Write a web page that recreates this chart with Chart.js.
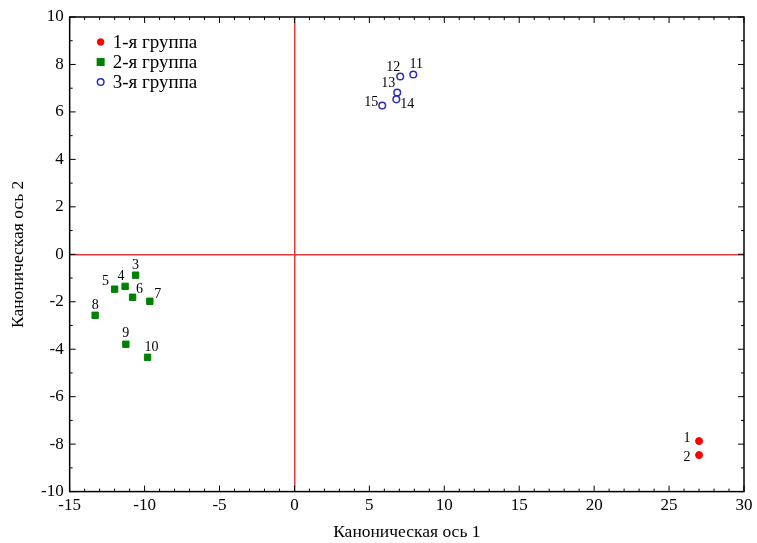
<!DOCTYPE html>
<html>
<head>
<meta charset="utf-8">
<script src="https://cdn.jsdelivr.net/npm/chart.js@4/dist/chart.umd.min.js"></script>
<style>
  body { margin: 0; background: #fff; }
  #wrap { width: 757px; height: 543px; }
</style>
</head>
<body>
<div id="wrap"><canvas id="chartCanon"></canvas></div>
<script>
// данные
const groupNames = ['1-я группа', '2-я группа', '3-я группа'];
const group1 = [
  { x: 27.0, y: -7.87, n: '1' },
  { x: 27.0, y: -8.46, n: '2' }
];
const group2 = [
  { x: -10.6, y: -0.88, n: '3' },
  { x: -11.3, y: -1.35, n: '4' },
  { x: -12.0, y: -1.47, n: '5' },
  { x: -10.8, y: -1.81, n: '6' },
  { x: -9.65, y: -1.98, n: '7' },
  { x: -13.3, y: -2.57, n: '8' },
  { x: -11.25, y: -3.79, n: '9' },
  { x: -9.8, y: -4.34, n: '10' }
];
const group3 = [
  { x: 7.93, y: 7.58, n: '11' },
  { x: 7.06, y: 7.49, n: '12' },
  { x: 6.86, y: 6.82, n: '13' },
  { x: 6.8, y: 6.53, n: '14' },
  { x: 5.86, y: 6.27, n: '15' }
];
const xTicks = [-15, -10, -5, 0, 5, 10, 15, 20, 25, 30];
const yTicks = [-10, -8, -6, -4, -2, 0, 2, 4, 6, 8, 10];

// сдвиг подписи относительно точки
const labelPos = {
  '1': [-12, -3], '2': [-12, 2], '3': [0, -10], '4': [-4, -10], '5': [-9, -8],
  '6': [7, -8], '7': [8, -7], '8': [0, -10], '9': [0, -11], '10': [4, -10],
  '11': [3, -10], '12': [-7, -9], '13': [-9, -9], '14': [11, 5], '15': [-11, -3]
};

const serif = '"Liberation Serif", "Times New Roman", serif';

const frame = {
  id: 'frame',
  afterDatasetsDraw(chart) {
    const { ctx, chartArea: a, scales: { x, y } } = chart;
    ctx.save();
    // минорные и основные риски внутрь
    ctx.strokeStyle = '#000';
    ctx.lineWidth = 1;
    ctx.beginPath();
    for (let v = -15; v <= 30; v++) {
      const px = x.getPixelForValue(v);
      const len = v % 5 === 0 ? 6 : 3;
      ctx.moveTo(px, a.bottom); ctx.lineTo(px, a.bottom - len);
      ctx.moveTo(px, a.top); ctx.lineTo(px, a.top + len);
    }
    for (let v = -10; v <= 10; v++) {
      const py = y.getPixelForValue(v);
      const len = v % 2 === 0 ? 6 : 3;
      ctx.moveTo(a.left, py); ctx.lineTo(a.left + len, py);
      ctx.moveTo(a.right, py); ctx.lineTo(a.right - len, py);
    }
    ctx.stroke();
    ctx.lineWidth = 1.5;
    ctx.strokeRect(a.left, a.top, a.right - a.left, a.bottom - a.top);

    // номера точек
    ctx.fillStyle = '#000';
    ctx.font = '14px ' + serif;
    ctx.textAlign = 'center';
    ctx.textBaseline = 'middle';
    [group1, group2, group3].forEach(g => g.forEach(p => {
      const off = labelPos[p.n] || [0, -10];
      ctx.fillText(p.n, x.getPixelForValue(p.x) + off[0], y.getPixelForValue(p.y) + off[1]);
    }));

    // легенда внутри поля
    const lx = a.left + 31, ly = a.top + 25;
    chart.data.datasets.forEach((ds, i) => {
      const yy = ly + i * 20;
      ctx.fillStyle = ds.backgroundColor;
      ctx.strokeStyle = ds.borderColor;
      ctx.lineWidth = ds.borderWidth;
      if (ds.pointStyle === 'rect') {
        ctx.fillRect(lx - 4, yy - 4, 8, 8);
      } else {
        ctx.beginPath();
        ctx.arc(lx, yy, 3.3, 0, Math.PI * 2);
        ctx.fill();
        ctx.stroke();
      }
      ctx.fillStyle = '#000';
      ctx.font = '19px ' + serif;
      ctx.textAlign = 'left';
      ctx.fillText(ds.label, lx + 12, yy + 1);
    });
    ctx.restore();
  }
};

new Chart(document.getElementById('chartCanon'), {
  type: 'scatter',
  data: {
    datasets: [
      { label: groupNames[0], data: group1, pointStyle: 'circle', pointRadius: 3.5,
        backgroundColor: '#ff0000', borderColor: '#ff0000', borderWidth: 1 },
      { label: groupNames[1], data: group2, pointStyle: 'rect', pointRadius: 4.5,
        backgroundColor: '#008000', borderColor: '#008000', borderWidth: 1 },
      { label: groupNames[2], data: group3, pointStyle: 'circle', pointRadius: 3.3,
        backgroundColor: '#ffffff', borderColor: '#2b2bb8', borderWidth: 1.5 }
    ]
  },
  options: {
    responsive: true,
    maintainAspectRatio: false,
    animation: false,
    layout: { padding: { top: 17, right: 13, left: 4, bottom: 0 } },
    plugins: { legend: { display: false }, tooltip: { enabled: false } },
    scales: {
      x: {
        type: 'linear', min: -15, max: 30,
        afterBuildTicks: s => { s.ticks = xTicks.map(v => ({ value: v })); },
        grid: { color: c => c.tick && c.tick.value === 0 ? '#e23a3a' : 'rgba(0,0,0,0)', lineWidth: 1.5, drawTicks: false },
        border: { display: false },
        ticks: { color: '#000', font: { family: serif, size: 17 }, padding: 4, maxRotation: 0 },
        title: { display: true, text: 'Каноническая ось 1', color: '#000', font: { family: serif, size: 17.5 }, padding: { top: 2, bottom: 0 } }
      },
      y: {
        type: 'linear', min: -10, max: 10,
        afterBuildTicks: s => { s.ticks = yTicks.map(v => ({ value: v })); },
        grid: { color: c => c.tick && c.tick.value === 0 ? '#e23a3a' : 'rgba(0,0,0,0)', lineWidth: 1.5, drawTicks: false },
        border: { display: false },
        ticks: { color: '#000', font: { family: serif, size: 17 }, padding: 6 },
        title: { display: true, text: 'Каноническая ось 2', color: '#000', font: { family: serif, size: 17.5 }, padding: { bottom: 6 } }
      }
    }
  },
  plugins: [frame]
});
</script>
</body>
</html>
